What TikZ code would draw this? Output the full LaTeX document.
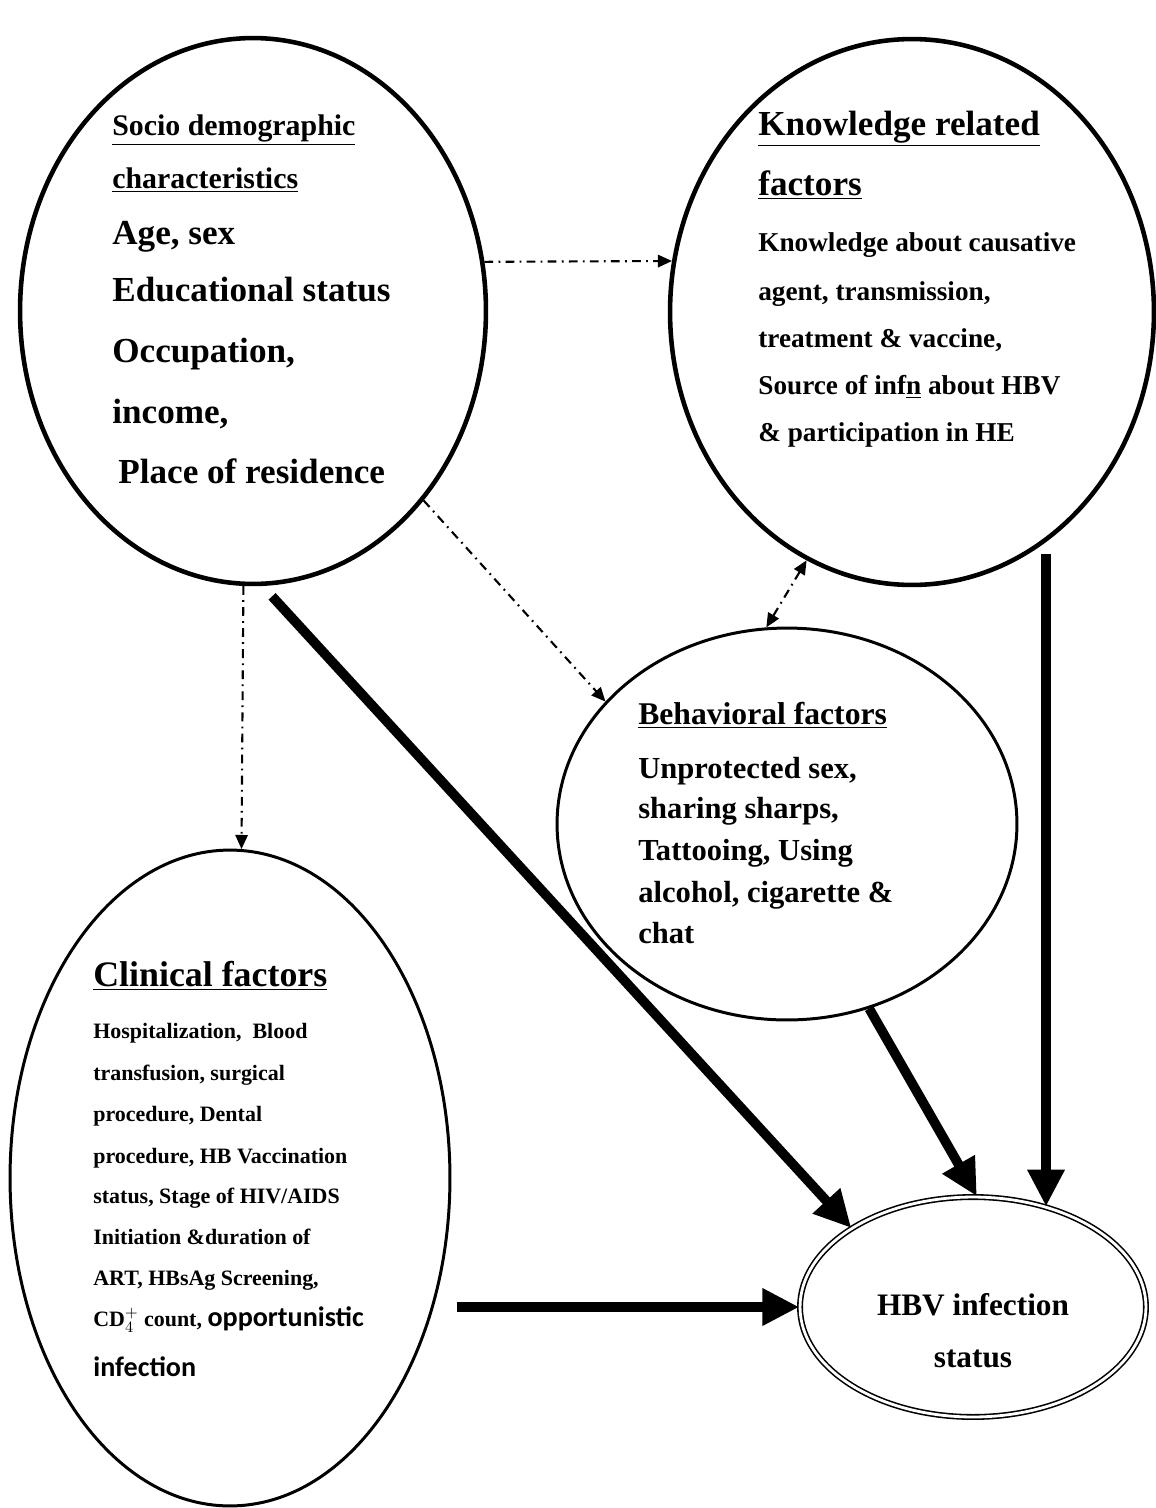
\documentclass[tikz,border=0pt]{standalone}
\usepackage{fontspec}
\setmainfont{Liberation Serif}
\newfontfamily\calib{Carlito}
\usetikzlibrary{shapes.geometric,arrows.meta}

\begin{document}
\begin{tikzpicture}
        [x=0.02cm, y=-0.02cm,
        factor/.style={ellipse, draw, line width=2.6pt, inner sep=0pt},
        minor/.style={ellipse, draw, line width=1.7pt, inner sep=0pt},
        outcome/.style={ellipse, draw, double, line width=0.9pt, double distance=1.6pt, inner sep=0pt},
        line/.style={anchor=mid west, inner sep=0pt, yshift=-2.5pt, font=\bfseries},
        dashdot/.style={line width=1.2pt, dash pattern=on 5pt off 3pt on 1pt off 3pt,
            -{Triangle[length=8pt, width=7pt]}},
        heavy/.style={line width=5.5pt, -{Triangle[length=21pt, width=20pt]}}]

        \useasboundingbox (0,0) rectangle (1156,1508);

        % the five groups of factors
        \node[factor, minimum width=9.32cm, minimum height=10.92cm] (socio) at (253,311) {};
        \node[factor, minimum width=9.68cm, minimum height=10.92cm] (know) at (912,312) {};
        \node[minor, minimum width=9.2cm, minimum height=7.84cm] (behav) at (787,824) {};
        \node[minor, minimum width=8.8cm, minimum height=13.12cm] (clin) at (230,1178) {};
        \node[outcome, minimum width=6.92cm, minimum height=4.4cm] (hbv) at (973,1307) {};

        % socio demographic
        \node[line, font=\bfseries\fontsize{17}{20}\selectfont] (soch1) at (112,127) {\underline{Socio demographic}};
        \node[line, font=\bfseries\fontsize{17}{20}\selectfont] (soch2) at (112,180) {\underline{characteristics}};
        \foreach \y/\t [count=\i] in {236/{Age, sex}, 293/{Educational status}, 354/{Occupation,}, 415/{income,}}
            \node[line, font=\bfseries\fontsize{20}{24}\selectfont] (socb\i) at (112,\y) {\t};
        \node[line, font=\bfseries\fontsize{20}{24}\selectfont] (socb5) at (118,475) {Place of residence};

        % knowledge
        \node[line, font=\bfseries\fontsize{20}{24}\selectfont] (knoh1) at (758,127) {\underline{Knowledge related}};
        \node[line, font=\bfseries\fontsize{20}{24}\selectfont] (knoh2) at (758,187) {\underline{factors}};
        \foreach \y/\t [count=\i] in {243/{Knowledge about causative}, 292/{agent, transmission,},
            339/{treatment \& vaccine,}, 386/{Source of inf\underline{n} about HBV}, 433/{\& participation in HE}}
            \node[line, font=\bfseries\fontsize{15.5}{18}\selectfont] (knob\i) at (758,\y) {\t};

        % behavioral
        \node[line, font=\bfseries\fontsize{18}{22}\selectfont] (behh) at (638,716) {\underline{Behavioral factors}};
        \foreach \y/\t [count=\i] in {770/{Unprotected sex,}, 810/{sharing sharps,}, 852/{Tattooing, Using},
            894/{alcohol, cigarette \&}, 935/{chat}}
            \node[line, font=\bfseries\fontsize{17.4}{21}\selectfont] (behb\i) at (638,\y) {\t};

        % clinical
        \node[line, font=\bfseries\fontsize{20.4}{24}\selectfont] (clih) at (93,978) {\underline{Clinical factors}};
        \foreach \y/\t [count=\i] in {1030/{Hospitalization,~ Blood}, 1072/{transfusion, surgical},
            1113/{procedure, Dental}, 1155/{procedure, HB Vaccination}, 1195/{status, Stage of HIV/AIDS},
            1236/{Initiation \&duration of}, 1277/{ART, HBsAg Screening,},
            1318/{CD$_4^{+}$ count, {\calib\fontsize{16}{19}\selectfont opportunistic}}}
            \node[line, font=\bfseries\fontsize{12.5}{15}\selectfont] (clib\i) at (93,\y) {\t};
        \node[line, font=\calib\bfseries\fontsize{16}{19}\selectfont] (clib9) at (93,1368) {infection};

        % outcome
        \node[font=\bfseries\fontsize{17.8}{21}\selectfont, inner sep=0pt] (hbvt1) at (973,1305) {HBV infection};
        \node[font=\bfseries\fontsize{17.8}{21}\selectfont, inner sep=0pt] (hbvt2) at (973,1359) {status};

        % dotted relations
        \draw[dashdot] (socio.12) -- (know.168);
        \draw[dashdot] (socio.-48) -- (behav.146);
        \draw[dashdot] (socio.-92) -- (clin.88);
        \draw[dashdot, {Triangle[length=8pt, width=7pt]}-{Triangle[length=8pt, width=7pt]}] (know.247) -- (behav.96);

        % main effects on the outcome
        \draw[heavy, shorten <=8pt] (socio.-88) -- (hbv.147);
        \draw[heavy] (behav.-66) -- (hbv.88);
        \draw[heavy, shorten <=5pt] (know.-61 -| hbv.54) -- (hbv.54);
        \draw[heavy, shorten <=3pt] (hbv.west -| clin.east) -- (hbv.west);
\end{tikzpicture}
\end{document}
